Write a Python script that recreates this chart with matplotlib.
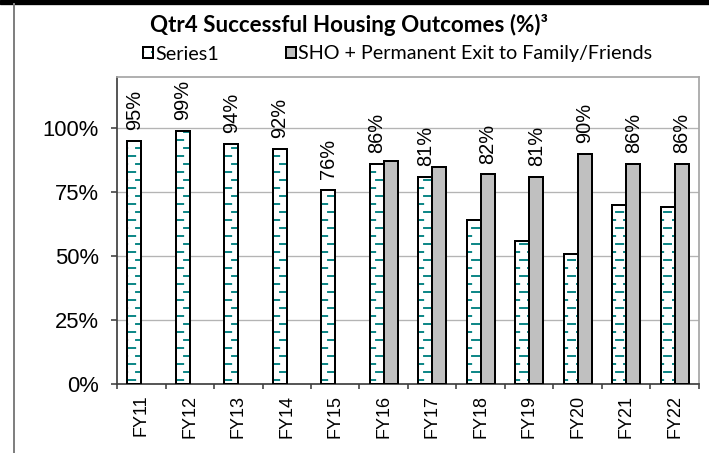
import warnings

import matplotlib
matplotlib.use('Agg')
import matplotlib.hatch as mhatch
import matplotlib.pyplot as plt
import numpy as np
from matplotlib.lines import Line2D
from matplotlib.patches import Rectangle
from matplotlib.path import Path

# Data
years = ['FY11', 'FY12', 'FY13', 'FY14', 'FY15', 'FY16',
         'FY17', 'FY18', 'FY19', 'FY20', 'FY21', 'FY22']
series1 = [95, 99, 94, 92, 76, 86, 81, 64, 56, 51, 70, 69]
sho_family = [None, None, None, None, None, 87, 85, 82, 81, 90, 86, 86]
# which bar carries the data label (1 = Series1, 2 = SHO + family)
label_on = [1, 1, 1, 1, 1, 1, 1, 2, 2, 2, 2, 2]

y_ticks = [0, 25, 50, 75, 100]
names = ['Series1', 'SHO + Permanent Exit to Family/Friends']
title = 'Qtr4 Successful Housing Outcomes (%)\u00b3'

TEAL = '#008080'
GRAY = '#c0c0c0'
W, H, DPI = 709, 453, 96


class DashHatch(mhatch.HatchPatternBase):
    # '_' : staggered short horizontal dashes (the excel "dashed" fill)
    def __init__(self, hatch, density):
        self.rows = hatch.count('_') * 12
        self.cols = 6
        self.num_vertices = self.rows * self.cols * 2

    def set_vertices_and_codes(self, vertices, codes):
        k = 0
        for r in range(self.rows):
            y = (r + 0.5) / self.rows
            shift = 0.5 * (r % 2)
            for c in range(self.cols):
                x0 = (c + shift) / self.cols
                vertices[k] = (x0, y)
                vertices[k + 1] = (x0 + 0.45 / self.cols, y)
                k += 2
        codes[0::2] = Path.MOVETO
        codes[1::2] = Path.LINETO


mhatch._hatch_types.append(DashHatch)
warnings.filterwarnings('ignore', message='hatch must consist')

plt.rcParams['font.family'] = ['Liberation Sans', 'DejaVu Sans']
plt.rcParams['hatch.linewidth'] = 1.4

fig = plt.figure(figsize=(W / DPI, H / DPI), dpi=DPI)
ax = fig.add_axes([117 / W, (H - 384) / H, 582 / W, 307 / H])

x = np.arange(len(years))
w = 0.29

# Series1: teal dashes on white, black outline drawn on top
b1_fill = ax.bar(x - w / 2, series1, w, color='white', edgecolor=TEAL,
                 hatch='_', linewidth=0, zorder=2)
b1_edge = ax.bar(x - w / 2, series1, w, fill=False, edgecolor='black',
                 linewidth=1.5, zorder=3)

x2 = [i for i, v in enumerate(sho_family) if v is not None]
v2 = [v for v in sho_family if v is not None]
b2 = ax.bar(np.array(x2) + w / 2, v2, w, color=GRAY, edgecolor='black',
            linewidth=1.5, zorder=3)

# Data labels
for i in range(len(years)):
    if label_on[i] == 1:
        xi, val = x[i] - w / 2, series1[i]
    else:
        xi, val = x[i] + w / 2, sho_family[i]
    ax.annotate(f'{val}%', (xi, val), xytext=(0, 8), textcoords='offset points',
                rotation=90, ha='center', va='bottom', fontsize=15)

ax.set_xlim(-0.5, len(years) - 0.5)
ax.set_ylim(0, 120)
ax.set_yticks(y_ticks)
ax.set_yticklabels([f'{v}%' for v in y_ticks])
ax.set_xticks(x)
ax.set_xticklabels(years, rotation=90)
ax.set_xticks(np.arange(len(years) + 1) - 0.5, minor=True)

ax.tick_params(axis='y', direction='out', length=4.5, width=1.2, color='#404040',
               labelsize=16.5, pad=9)
ax.tick_params(axis='x', which='major', length=0, labelsize=13.5, pad=8)
ax.tick_params(axis='x', which='minor', direction='out', length=4, width=1.2,
               color='#404040')

ax.set_axisbelow(True)
ax.grid(axis='y', color='#b4b4b4', linewidth=1.0)

for side in ['left', 'bottom']:
    ax.spines[side].set_color('#404040')
    ax.spines[side].set_linewidth(1.3)
for side in ['top', 'right']:
    ax.spines[side].set_color('#a6a6a6')
    ax.spines[side].set_linewidth(1.3)

# Title and legend
fig.text(349 / W, 1 - 32 / H, title, ha='center', va='baseline',
         fontsize=16.8, fontweight='bold', family='Lato')
fig.legend([(b1_fill, b1_edge), b2], names, loc='center left',
           bbox_to_anchor=(143 / W, 1 - 54 / H), ncol=2, frameon=False,
           prop={'family': 'Lato', 'size': 14.8},
           handlelength=0.5, handleheight=0.5, handletextpad=0.12,
           columnspacing=3.4, borderpad=0, borderaxespad=0)

# Page frame bits: black band on top, gray rule on the left
fig.add_artist(Rectangle((0, 1 - 4 / H), 1, 4 / H, transform=fig.transFigure,
                         color='black'))
fig.add_artist(Line2D([13.5 / W, 13.5 / W], [0, 1 - 4 / H], transform=fig.transFigure,
                      color='#808080', linewidth=1.5))

fig.savefig('out.png', dpi=DPI)
